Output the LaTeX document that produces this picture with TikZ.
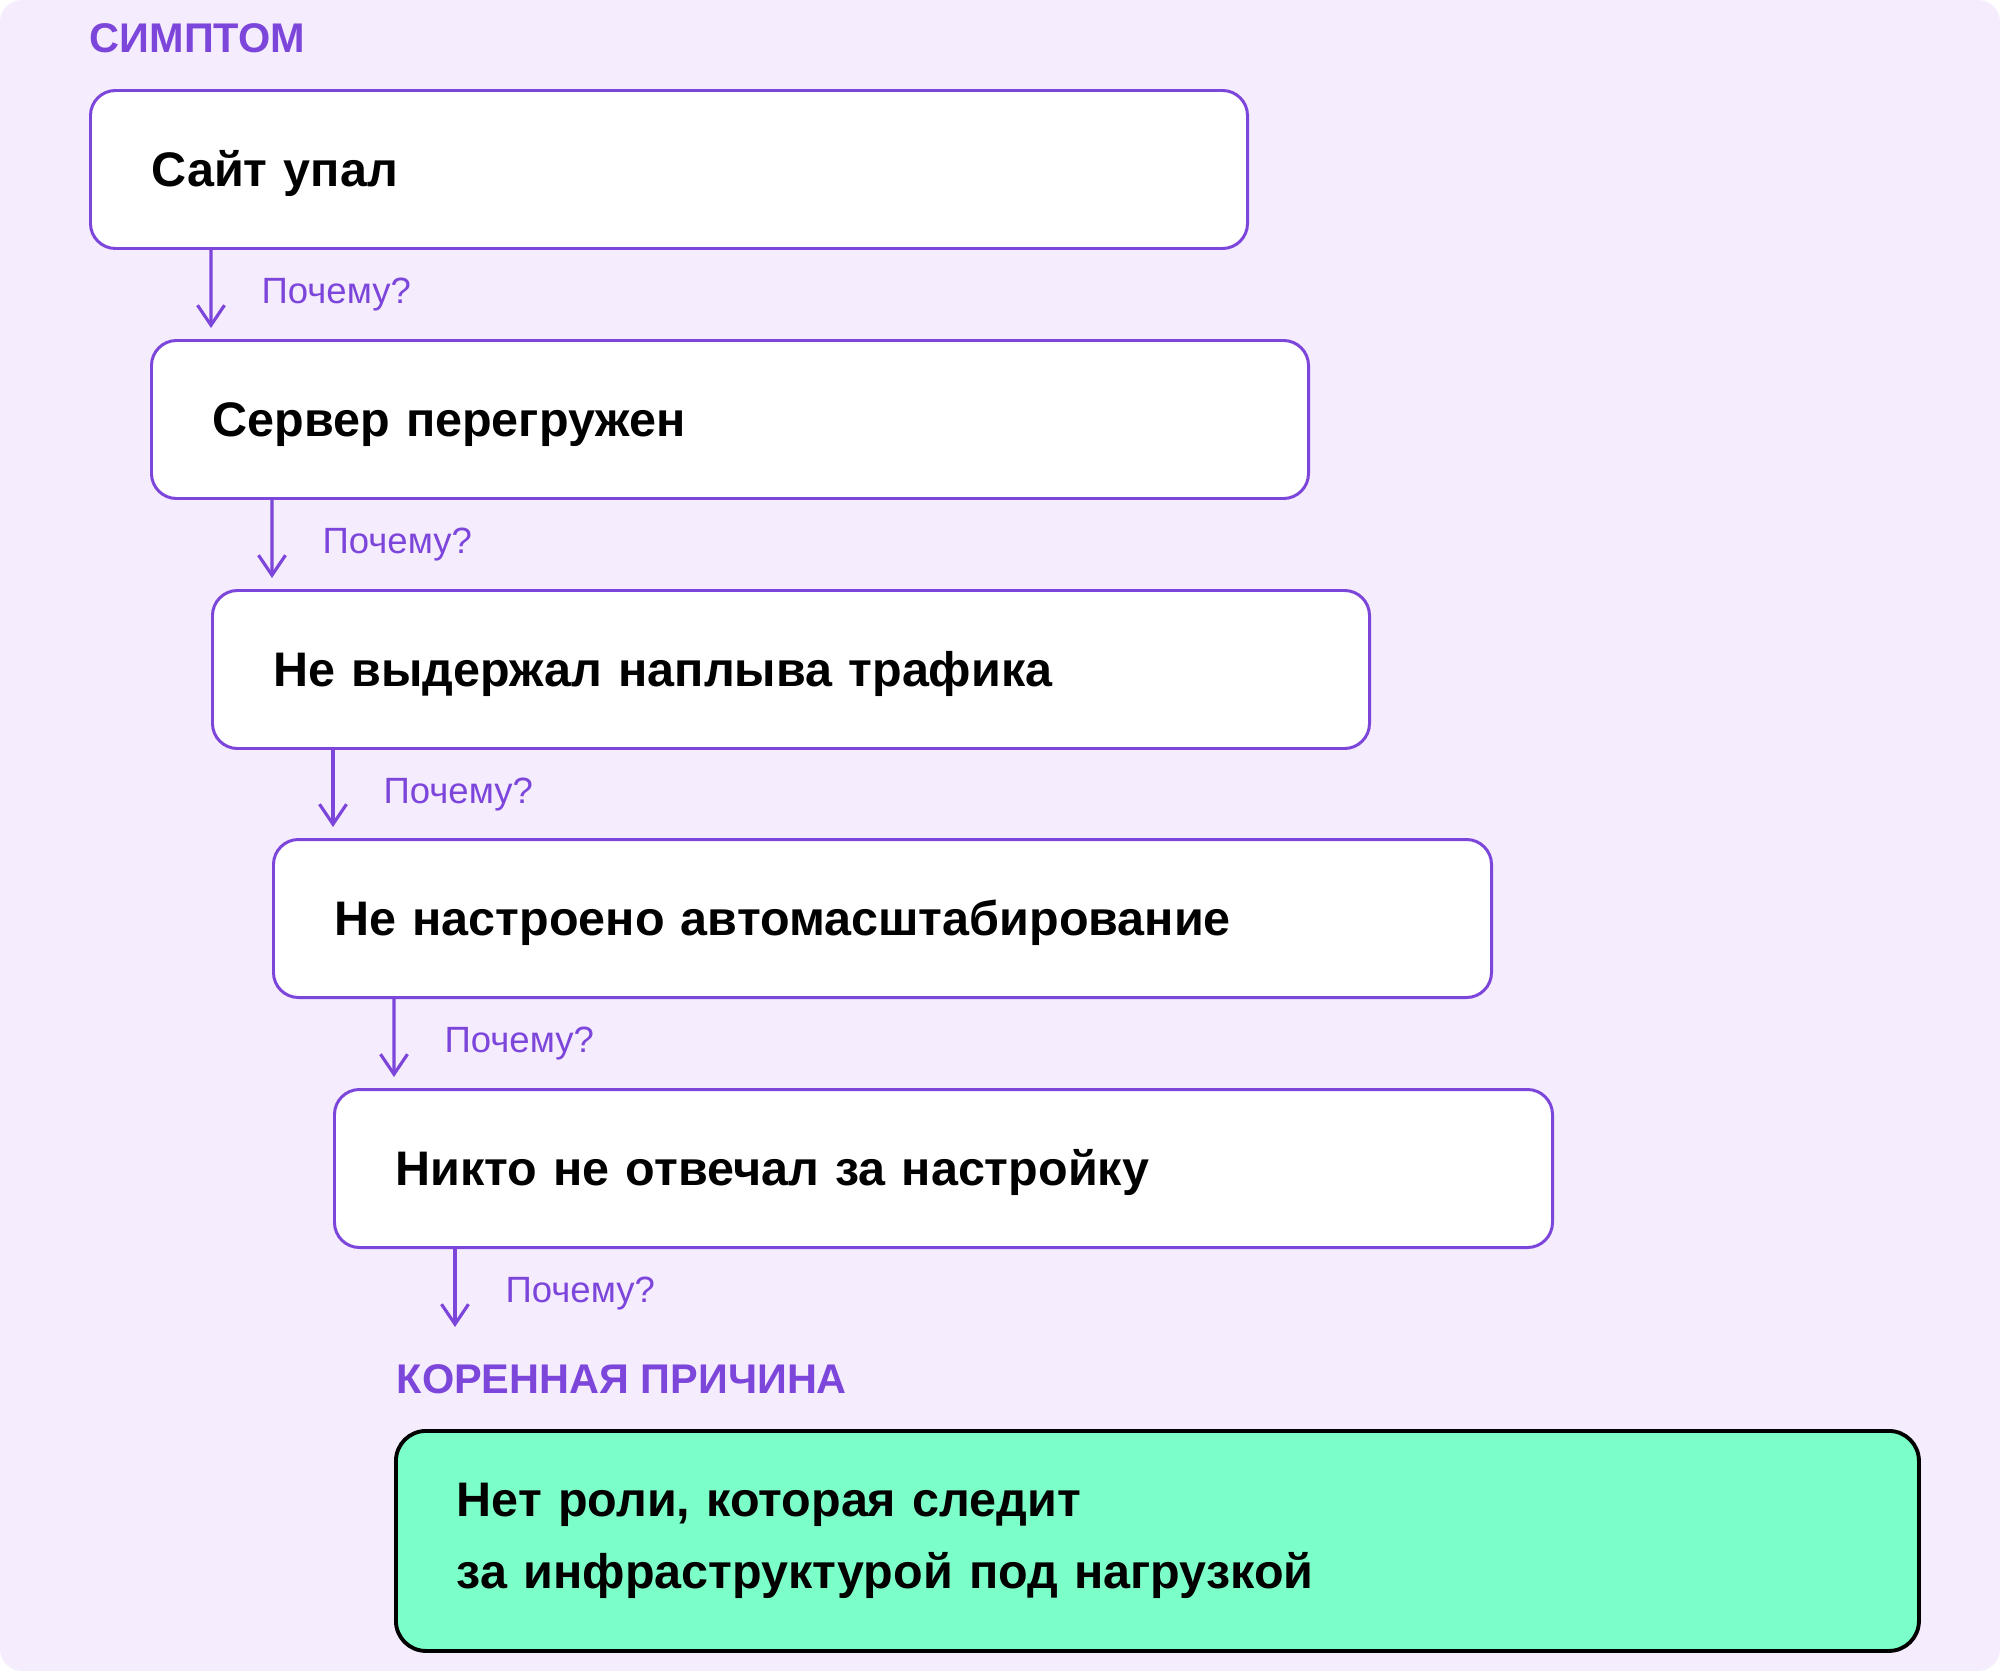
\documentclass[tikz,border=0pt]{standalone}
\usepackage{fontspec}
\setmainfont{Liberation Sans}
\usetikzlibrary{arrows.meta}
\definecolor{lilac}{HTML}{F5ECFE}
\definecolor{purp}{HTML}{7D46DB}
\definecolor{mint}{HTML}{7BFEC8}

\begin{document}
\begin{tikzpicture}[
  whybox/.style={draw=purp, line width=0.85pt, fill=white, rounded corners=0.25cm,
    anchor=north west, minimum height=1.58cm, inner xsep=0.61cm, align=left,
    text height=9.6pt, text depth=0pt, font=\fontsize{13.8}{17}\selectfont\bfseries},
  head/.style={anchor=west, inner sep=0pt, text=purp, font=\fontsize{11.8}{13}\selectfont\bfseries},
  why/.style={right=0.49cm, yshift=-0.06cm, inner sep=0pt, text=purp, font=\fontsize{10.4}{13}\selectfont},
  arr/.style={draw=purp, line width=0.9pt, -{Straight Barb[length=2mm,width=2.7mm]}}
]

\useasboundingbox (0,0) rectangle (20,-16.71);
\fill [lilac, rounded corners=0.22cm] (0,0) rectangle (20,-16.71);

\node [head] (symptom) at (0.89,-0.38) {СИМПТОМ};

\node [whybox, text width=10.35cm] (b1) at (0.89,-0.89) {Сайт упал};
\node [whybox, text width=10.35cm] (b2) at (1.50,-3.39) {Сервер перегружен};
\node [whybox, text width=10.35cm] (b3) at (2.11,-5.89) {Не выдержал наплыва трафика};
\node [whybox, text width=10.96cm] (b4) at (2.72,-8.38) {Не настроено автомасштабирование};
\node [whybox, text width=10.96cm] (b5) at (3.33,-10.88) {Никто не отвечал за настройку};

\node [head] (rootlbl) at (3.96,-13.79) {КОРЕННАЯ ПРИЧИНА};
\node [draw=black, line width=1.1pt, fill=mint, rounded corners=0.3cm, anchor=north west,
  minimum height=2.2cm, text width=14.01cm, inner xsep=0.61cm, align=left,
  font=\fontsize{13.8}{20.5}\selectfont\bfseries] (root) at (3.94,-14.29)
  {Нет роли, которая следит\\за инфраструктурой под нагрузкой};
\coordinate (rootin) at (4.55,-13.27);

\begin{scope}[arr]
\draw ([xshift=1.22cm]b1.south west) -- ([xshift=0.61cm,yshift=0.11cm]b2.north west) node [why, midway] {Почему?};
\draw ([xshift=1.22cm]b2.south west) -- ([xshift=0.61cm,yshift=0.11cm]b3.north west) node [why, midway] {Почему?};
\draw ([xshift=1.22cm]b3.south west) -- ([xshift=0.61cm,yshift=0.11cm]b4.north west) node [why, midway] {Почему?};
\draw ([xshift=1.22cm]b4.south west) -- ([xshift=0.61cm,yshift=0.11cm]b5.north west) node [why, midway] {Почему?};
\draw ([xshift=1.22cm]b5.south west) -- (rootin) node [why, midway] {Почему?};
\end{scope}

\end{tikzpicture}
\end{document}
